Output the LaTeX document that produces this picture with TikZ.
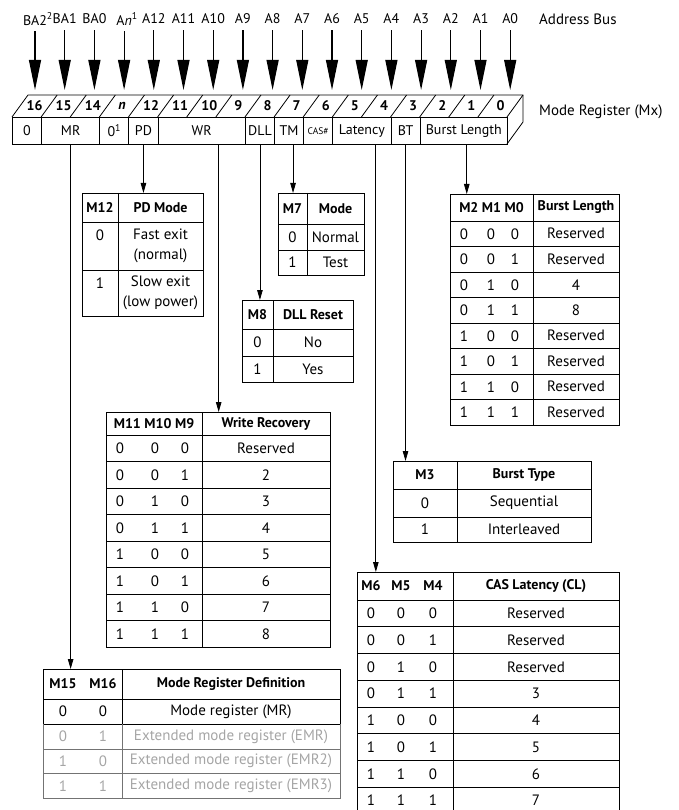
\documentclass[tikz,border=0pt]{standalone}
\usepackage{fontspec}
\setmainfont{PT Sans}
\usepackage{tikz}
\usetikzlibrary{arrows.meta, positioning, calc}
\definecolor{cFaint}{RGB}{165,165,165}
\definecolor{cFaintLine}{RGB}{115,115,115}
\newcommand{\tabfont}{\fontsize{15}{17}\selectfont}
\newcommand{\regfont}{\fontsize{14}{16}\selectfont}
\tikzset{
    field/.style   ={draw, line width=0.8pt, minimum height=27pt, inner sep=0pt, anchor=north west, font=\regfont},
    tbl/.style     ={draw, line width=0.8pt, inner sep=0pt, anchor=north west},
    tabline/.style ={line width=0.8pt},
    hd/.style      ={font=\regfont\bfseries},
    bitno/.style   ={font=\regfont\bfseries},
    busname/.style ={font=\regfont},
    twoline/.style ={align=center, font=\fontsize{15}{20.5}\selectfont},
    busarrow/.style={-{Triangle[length=30pt,width=12pt]}, line width=1.2pt},
    tap/.style     ={-{Triangle[length=10pt,width=5.5pt]}, line width=0.8pt},
}

\begin{document}
\begin{tikzpicture}[x=1pt, y=-1pt, every node/.style={font=\tabfont, inner sep=1pt}]
    \useasboundingbox (0,0) rectangle (678,810);
    \def\dx{29.12}

    % address bus
    \coordinate (regtop) at (0,90);
    \foreach \lbl [count=\k from 0] in {BA2\rlap{\textsuperscript{2}}, BA1, BA0, A\textit{n}\rlap{\textsuperscript{1}}, A12, A11, A10, A9, A8, A7, A6, A5, A4, A3, A2, A1, A0} {
        \node[busname] (bus\k) at ({35+\k*29.7},19) {\lbl};
        \draw[busarrow, shorten <=5pt] (bus\k.south) -- (bus\k.south |- regtop);
    }
    \node[anchor=west] (busname) at (538,19) {Address Bus};
    \node[anchor=west] (regname) at (538,112) {Mode Register (Mx)};

    % mode register box
    \draw[tabline] (12,117) -- (28,95) -- (523,95) -- (523,122) -- (507,144);
    \draw[tabline] (507,117) -- (523,95);
    \foreach \k in {1,...,16}
        \draw[tabline] ({12+\k*\dx},117) -- ({28+\k*\dx},95);
    \foreach \b [count=\k from 0] in {16,15,14,\textit{n},12,11,10,9,8,7,6,5,4,3,2,1,0}
        \node[bitno] (bit\k) at ({20+(\k+0.5)*\dx},106) {\b};
    \foreach \nm/\k/\n/\txt in {Zero/0/1/0, MR/1/2/MR, N/3/1/0\textsuperscript{1}, PD/4/1/PD, WR/5/3/WR, DLL/8/1/DLL, TM/9/1/TM, CAS/10/1/{\fontsize{9.5}{10}\selectfont CAS\#}, Lat/11/2/Latency, BT/13/1/BT, BL/14/3/Burst Length}
        \node[field, minimum width={\n*\dx*1pt}] (f\nm) at ({12+\k*\dx},117) {\txt};

    % PD mode
    \node[tbl, minimum width=121pt, minimum height=123pt] (tPD) at (82,193) {};
    \draw[tabline] (118,193) -- (118,316) (82,222) -- (203,222) (82,270) -- (203,270);
    \node[hd] (pdH1) at (100,207.5) {M12};
    \node[hd] (pdH2) at (160.5,207.5) {PD Mode};
    \node (pdA1) at (100,235) {0};
    \node[twoline] (pdB1) at (160.5,246) {Fast exit\\(normal)};
    \node (pdA2) at (100,283) {1};
    \node[twoline] (pdB2) at (160.5,293) {Slow exit\\(low power)};

    % test mode
    \node[tbl, minimum width=86pt, minimum height=82pt] (tTM) at (278,193) {};
    \draw[tabline] (307,193) -- (307,275) (278,224) -- (364,224) (278,250) -- (364,250);
    \node[hd] (tmH1) at (292.5,208.5) {M7};
    \node[hd] (tmH2) at (335.5,208.5) {Mode};
    \node (tmA1) at (292.5,237) {0};
    \node (tmB1) at (335.5,237) {Normal};
    \node (tmA2) at (292.5,262.5) {1};
    \node (tmB2) at (335.5,262.5) {Test};

    % DLL reset
    \node[tbl, minimum width=111pt, minimum height=82pt] (tDLL) at (242,300) {};
    \draw[tabline] (273,300) -- (273,382) (242,329) -- (353,329) (242,356) -- (353,356);
    \node[hd] (dllH1) at (257.5,314.5) {M8};
    \node[hd] (dllH2) at (313,314.5) {DLL Reset};
    \node (dllA1) at (257.5,342.5) {0};
    \node (dllB1) at (313,342.5) {No};
    \node (dllA2) at (257.5,369) {1};
    \node (dllB2) at (313,369) {Yes};

    % burst length
    \node[tbl, minimum width=169pt, minimum height=231pt] (tBL) at (450,194) {};
    \draw[tabline] (533,194) -- (533,425) (450,221) -- (619,221);
    \foreach \r in {1,...,7}
        \draw[tabline] (450,{221+\r*25.5}) -- (619,{221+\r*25.5});
    \node[hd] (blH1) at (491.5,207.5) {M2 M1 M0};
    \node[hd] (blH2) at (576,207.5) {Burst Length};
    \foreach \a/\b/\c/\v [count=\r] in {0/0/0/Reserved, 0/0/1/Reserved, 0/1/0/4, 0/1/1/8, 1/0/0/Reserved, 1/0/1/Reserved, 1/1/0/Reserved, 1/1/1/Reserved} {
        \node (blA\r) at (464,{221+(\r-0.5)*25.5}) {\a};
        \node (blB\r) at (491,{221+(\r-0.5)*25.5}) {\b};
        \node (blC\r) at (515,{221+(\r-0.5)*25.5}) {\c};
        \node (blV\r) at (576,{221+(\r-0.5)*25.5}) {\v};
    }

    % write recovery
    \node[tbl, minimum width=224pt, minimum height=235pt] (tWR) at (106,412) {};
    \draw[tabline] (202,412) -- (202,647) (106,435) -- (330,435);
    \foreach \r in {1,...,7}
        \draw[tabline] (106,{435+\r*26.5}) -- (330,{435+\r*26.5});
    \node[hd] (wrH1) at (154,423.5) {M11 M10 M9};
    \node[hd] (wrH2) at (266,423.5) {Write Recovery};
    \foreach \a/\b/\c/\v [count=\r] in {0/0/0/Reserved, 0/0/1/2, 0/1/0/3, 0/1/1/4, 1/0/0/5, 1/0/1/6, 1/1/0/7, 1/1/1/8} {
        \node (wrA\r) at (120,{435+(\r-0.5)*26.5}) {\a};
        \node (wrB\r) at (155,{435+(\r-0.5)*26.5}) {\b};
        \node (wrC\r) at (185,{435+(\r-0.5)*26.5}) {\c};
        \node (wrV\r) at (266,{435+(\r-0.5)*26.5}) {\v};
    }

    % burst type
    \node[tbl, minimum width=198pt, minimum height=81pt] (tBT) at (393,461) {};
    \draw[tabline] (457,461) -- (457,542) (393,489) -- (591,489) (393,517) -- (591,517);
    \node[hd] (btH1) at (425,475) {M3};
    \node[hd] (btH2) at (524,475) {Burst Type};
    \node (btA1) at (425,503) {0};
    \node (btB1) at (524,503) {Sequential};
    \node (btA2) at (425,529.5) {1};
    \node (btB2) at (524,529.5) {Interleaved};

    % CAS latency
    \node[tbl, minimum width=262pt, minimum height=242pt] (tCL) at (357,572) {};
    \draw[tabline] (453,572) -- (453,814) (357,600) -- (619,600);
    \foreach \r in {1,...,7}
        \draw[tabline] (357,{600+\r*26.75}) -- (619,{600+\r*26.75});
    \node[hd] (clH1) at (371,586) {M6};
    \node[hd] (clH2) at (401,586) {M5};
    \node[hd] (clH3) at (433,586) {M4};
    \node[hd] (clH4) at (536,586) {CAS Latency (CL)};
    \foreach \a/\b/\c/\v [count=\r] in {0/0/0/Reserved, 0/0/1/Reserved, 0/1/0/Reserved, 0/1/1/3, 1/0/0/4, 1/0/1/5, 1/1/0/6, 1/1/1/7} {
        \node (clA\r) at (371,{600+(\r-0.5)*26.75}) {\a};
        \node (clB\r) at (401,{600+(\r-0.5)*26.75}) {\b};
        \node (clC\r) at (433,{600+(\r-0.5)*26.75}) {\c};
        \node (clV\r) at (536,{600+(\r-0.5)*26.75}) {\v};
    }

    % mode register definition
    \node[tbl, draw=none, minimum width=297pt, minimum height=129pt] (tMRD) at (43,669) {};
    \draw[tabline] (43,724) -- (43,669) -- (340,669) -- (340,724)
        (122,669) -- (122,724) (43,699) -- (340,699) (43,724) -- (340,724);
    \draw[tabline, cFaintLine] (43,724) -- (43,798) -- (340,798) -- (340,724)
        (122,724) -- (122,798) (43,749) -- (340,749) (43,773.5) -- (340,773.5);
    \node[hd] (mrdH1) at (63,684) {M15};
    \node[hd] (mrdH2) at (103,684) {M16};
    \node[hd] (mrdH3) at (231,684) {Mode Register Definition};
    \node (mrdA1) at (63,711.5) {0};
    \node (mrdB1) at (103,711.5) {0};
    \node (mrdV1) at (231,711.5) {Mode register (MR)};
    \foreach \a/\b/\v [count=\r] in {0/1/Extended mode register (EMR), 1/0/Extended mode register (EMR2), 1/1/Extended mode register (EMR3)} {
        \node[text=cFaint] (mrdA\r x) at (63,{724+(\r-0.5)*24.75}) {\a};
        \node[text=cFaint] (mrdB\r x) at (103,{724+(\r-0.5)*24.75}) {\b};
        \node[text=cFaint] (mrdV\r x) at (231,{724+(\r-0.5)*24.75}) {\v};
    }

    % field to table connectors
    \draw[tap] (fMR.south) -- (fMR.south |- tMRD.north);
    \draw[tap] (fPD.south) -- (fPD.south |- tPD.north);
    \draw[tap] ([xshift=17pt]fWR.south) -- ([xshift=17pt]fWR.south |- tWR.north);
    \draw[tap] (fDLL.south) -- (fDLL.south |- tDLL.north);
    \draw[tap] ([xshift=4pt]fTM.south) -- ([xshift=4pt]fTM.south |- tTM.north);
    \draw[tap] ([xshift=14pt]fLat.south) -- ([xshift=14pt]fLat.south |- tCL.north);
    \draw[tap] (fBT.south) -- (fBT.south |- tBT.north);
    \draw[tap] ([xshift=3pt]fBL.south) -- ([xshift=3pt]fBL.south |- tBL.north);
\end{tikzpicture}
\end{document}
